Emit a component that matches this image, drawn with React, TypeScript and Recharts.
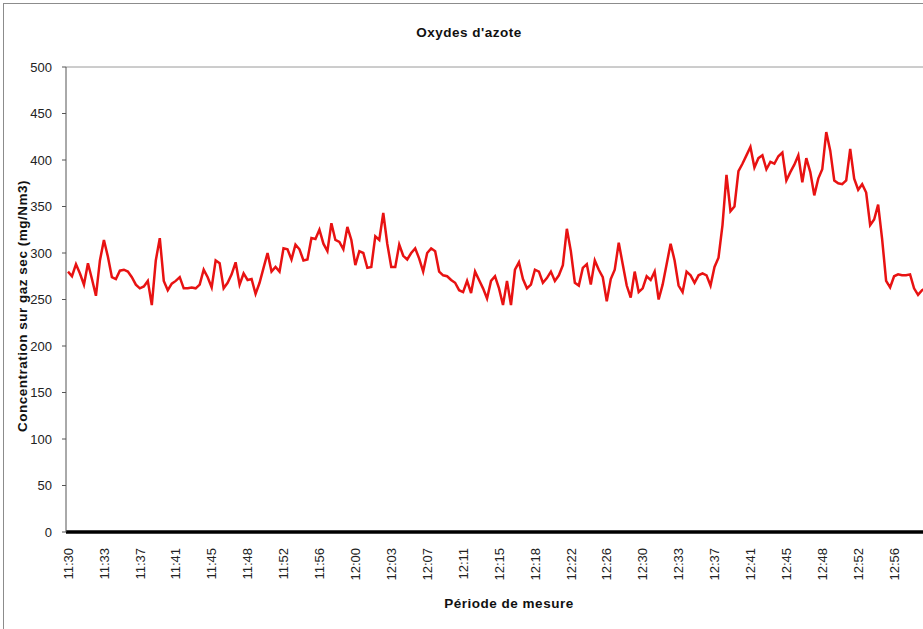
import { Line, LineChart, ReferenceLine, XAxis, YAxis } from "recharts";

// NOx concentration on dry gas, one reading every 25 s from 11:30
const STEP_SEC = 25;
const TICK_SEC = 225;

const noxValues = [
  280, 275, 288, 278, 266, 289, 272, 254, 292, 314,
  296, 274, 272, 281, 282, 280, 274, 266, 262, 264,
  270, 244, 292, 316, 270, 260, 267, 270, 274, 262,
  262, 263, 262, 266, 282, 274, 263, 292, 289, 262,
  268, 277, 290, 266, 278, 271, 272, 256, 268, 284,
  300, 280, 285, 280, 305, 304, 293, 309, 304, 292,
  293, 316, 315, 325, 310, 302, 332, 314, 312, 304,
  328, 314, 287, 302, 300, 284, 285, 318, 314, 343,
  310, 285, 285, 309, 297, 293, 300, 305, 294, 280,
  300, 305, 302, 280, 276, 275, 271, 268, 260, 258,
  270, 257, 280, 271, 262, 251, 270, 275, 262, 244,
  270, 244, 282, 290, 272, 262, 266, 282, 280, 268,
  273, 280, 270, 276, 287, 326, 302, 268, 265, 284,
  288, 266, 292, 282, 274, 248, 272, 282, 311, 288,
  265, 252, 280, 258, 262, 275, 271, 280, 250, 266,
  288, 310, 292, 265, 258, 280, 276, 268, 276, 278,
  276, 265, 285, 295, 330, 384, 345, 350, 388, 396,
  405, 414, 392, 402, 405, 390, 398, 396, 404, 408,
  378, 387, 395, 405, 376, 402, 387, 362, 380, 390,
  430, 410, 378, 375, 374, 378, 412, 380, 368, 374,
  365, 330, 336, 352, 315, 270, 263, 275, 277, 276,
  276, 277, 262, 255, 260, 262, 264,
];

const tickLabels = [
  "11:30", "11:33", "11:37", "11:41", "11:45", "11:48", "11:52", "11:56",
  "12:00", "12:03", "12:07", "12:11", "12:15", "12:18", "12:22", "12:26",
  "12:30", "12:33", "12:37", "12:41", "12:45", "12:48", "12:52", "12:56",
  "13:00",
];

const yTicks = [0, 50, 100, 150, 200, 250, 300, 350, 400, 450, 500];

const data = noxValues.map((v, i) => ({ sec: i * STEP_SEC, nox: v }));
const xTicks = tickLabels.map((_, k) => k * TICK_SEC);

const FONT = "'Liberation Sans', Arial, sans-serif";

function TimeTick(props: any) {
  const { x, y, payload } = props;
  const label = tickLabels[Math.round(payload.value / TICK_SEC)];
  return (
    <g transform={`translate(${x},${y})`}>
      <text
        transform="rotate(-90)"
        x={-8}
        y={0}
        dy="0.36em"
        textAnchor="end"
        fontFamily={FONT}
        fontSize={13}
        fill="#222"
      >
        {label}
      </text>
    </g>
  );
}

export default function App() {
  return (
    <div
      style={{
        position: "fixed",
        left: 0,
        top: 0,
        width: 923,
        height: 629,
        overflow: "hidden",
        background: "#fff",
        fontFamily: FONT,
      }}
    >
      <div
        style={{
          position: "absolute",
          left: 3,
          top: 3,
          width: 1000,
          height: 700,
          border: "1px solid #8c8c8c",
        }}
      />
      <div
        style={{
          position: "absolute",
          left: 469,
          top: 32,
          transform: "translate(-50%, -50%)",
          fontSize: 13.5,
          fontWeight: "bold",
          letterSpacing: 0.5,
          whiteSpace: "nowrap",
          color: "#111",
        }}
      >
        Oxydes d'azote
      </div>
      <div
        style={{
          position: "absolute",
          left: 22,
          top: 306,
          transform: "translate(-50%, -50%) rotate(-90deg)",
          fontSize: 13.5,
          fontWeight: "bold",
          letterSpacing: 0.5,
          whiteSpace: "nowrap",
          color: "#111",
        }}
      >
        Concentration sur gaz sec (mg/Nm3)
      </div>
      <div
        style={{
          position: "absolute",
          left: 509,
          top: 603,
          transform: "translate(-50%, -50%)",
          fontSize: 13.5,
          fontWeight: "bold",
          letterSpacing: 0.5,
          whiteSpace: "nowrap",
          color: "#111",
        }}
      >
        Période de mesure
      </div>
      <div style={{ position: "absolute", left: 0, top: 0 }}>
        <LineChart
          width={948}
          height={612}
          data={data}
          margin={{ top: 67, right: 10, bottom: 0, left: 6 }}
        >
          <XAxis
            type="number"
            dataKey="sec"
            domain={[0, 5450]}
            ticks={xTicks}
            interval={0}
            padding={{ left: 2, right: 0 }}
            height={80}
            tick={<TimeTick />}
            tickLine={false}
            axisLine={{ stroke: "#000", strokeWidth: 3.5 }}
          />
          <YAxis
            type="number"
            domain={[0, 500]}
            ticks={yTicks}
            interval={0}
            width={60}
            tickSize={4}
            tickMargin={10}
            tick={{ fontFamily: FONT, fontSize: 13, fill: "#222" }}
            tickLine={{ stroke: "#555" }}
            axisLine={{ stroke: "#555", strokeWidth: 1 }}
          />
          <ReferenceLine y={500} stroke="#9a9a9a" strokeWidth={1} />
          <Line
            type="linear"
            dataKey="nox"
            stroke="#e81212"
            strokeWidth={2.5}
            dot={false}
            activeDot={false}
            isAnimationActive={false}
          />
        </LineChart>
      </div>
    </div>
  );
}
